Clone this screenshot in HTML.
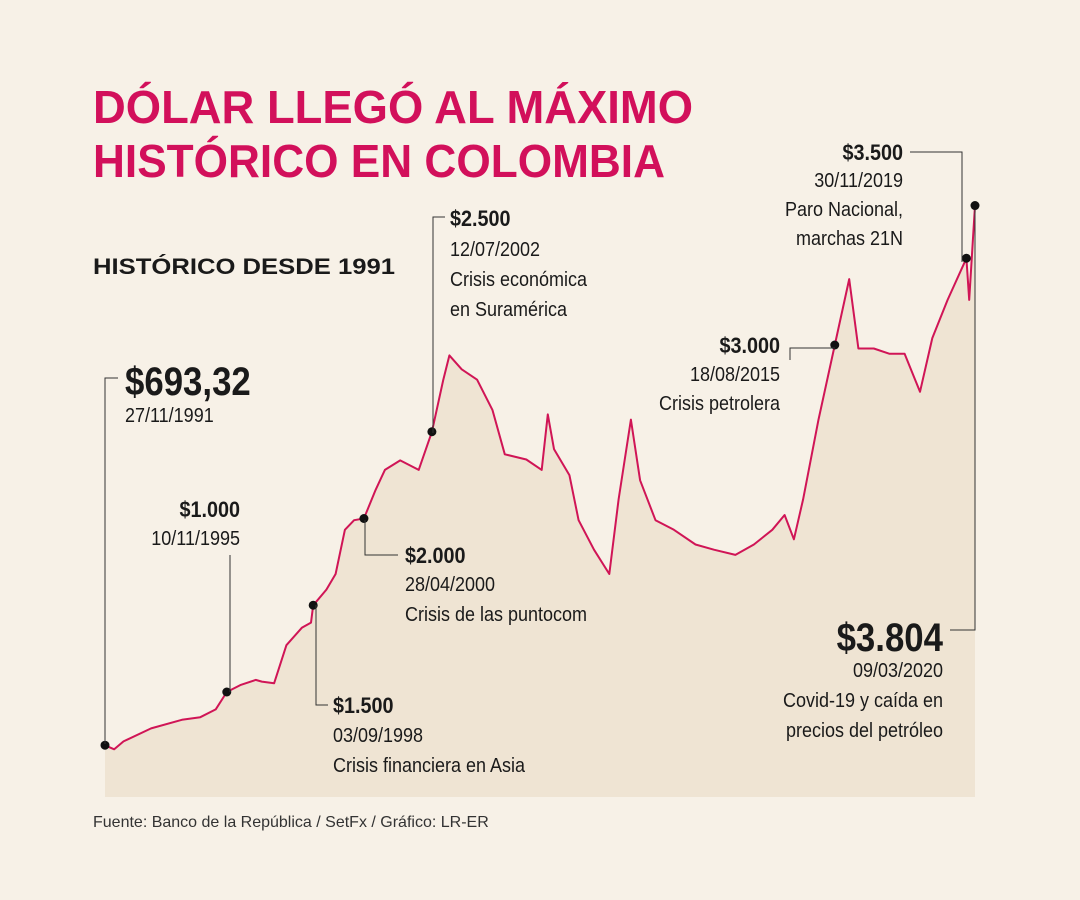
<!DOCTYPE html>
<html><head><meta charset="utf-8">
<style>
html,body{margin:0;padding:0;background:#f7f1e7;}
svg{display:block;}
.cn{font-family:"Liberation Sans",sans-serif;}
.b{font-weight:bold;}
</style></head>
<body>
<svg id="chart" width="1080" height="900" viewBox="0 0 1080 900" xmlns="http://www.w3.org/2000/svg">
<rect width="1080" height="900" fill="#f7f1e7"/>
<text x="93" y="123" fill="#d2105b" font-family="Liberation Sans, sans-serif" font-weight="bold" font-size="46" textLength="600" lengthAdjust="spacingAndGlyphs">DÓLAR LLEGÓ AL MÁXIMO</text>
<text x="93" y="177" fill="#d2105b" font-family="Liberation Sans, sans-serif" font-weight="bold" font-size="46" textLength="572" lengthAdjust="spacingAndGlyphs">HISTÓRICO EN COLOMBIA</text>
<text x="93" y="274" fill="#1a1a1a" font-family="Liberation Sans, sans-serif" font-weight="bold" font-size="22" textLength="302" lengthAdjust="spacingAndGlyphs">HISTÓRICO DESDE 1991</text>
<g id="plot"></g>
<g id="ann"></g>
<text x="93" y="827" fill="#333" font-family="Liberation Sans, sans-serif" font-size="16">Fuente: Banco de la República / SetFx / Gráfico: LR-ER</text>
</svg>
<script>
const dates = [1991.9,1992.2,1992.5,1993.4,1994.4,1995.0,1995.5,1995.86,1996.3,1996.8,1997.0,1997.4,1997.8,1998.3,1998.6,1998.67,1999.1,1999.4,1999.7,2000.0,2000.32,2000.7,2001.0,2001.5,2002.1,2002.53,2002.9,2003.1,2003.5,2004.0,2004.5,2004.9,2005.6,2006.1,2006.3,2006.5,2007.0,2007.3,2007.8,2008.3,2008.6,2009.0,2009.3,2009.8,2010.4,2011.1,2011.7,2012.4,2013.0,2013.6,2014.0,2014.3,2014.6,2015.1,2015.63,2016.1,2016.4,2016.9,2017.4,2017.9,2018.4,2018.8,2019.3,2019.91,2020.0,2020.19];
const values = [693,670,715,790,840,855,900,1000,1040,1070,1060,1050,1270,1370,1400,1500,1590,1680,1935,1990,2000,2165,2280,2335,2280,2500,2800,2940,2860,2800,2625,2370,2340,2280,2600,2400,2250,1990,1820,1680,2110,2570,2220,1990,1935,1850,1820,1790,1850,1935,2020,1880,2110,2570,3000,3380,2980,2980,2950,2950,2730,3040,3260,3500,3260,3804];
const markerDates = [1991.9,1995.86,1998.67,2000.32,2002.53,2015.63,2019.91,2020.19];
const markerValues = [693.32,1000,1500,2000,2500,3000,3500,3804];

const NS="http://www.w3.org/2000/svg";
const X0=1991.9,X1=2020.19,PX0=105,PX1=975;
const xs=d=>PX0+(d-X0)/(X1-X0)*(PX1-PX0);
const ys=v=>692-(v-1000)*0.1735;
const baseY=797;
const plot=document.getElementById('plot');
function mk(tag,attrs,parent){const e=document.createElementNS(NS,tag);for(const k in attrs)e.setAttribute(k,attrs[k]);parent.appendChild(e);return e;}
let d='';
dates.forEach((t,i)=>{d+=(i?'L':'M')+xs(t).toFixed(1)+','+ys(values[i]).toFixed(1);});
const area=mk('path',{d:d+'L'+xs(dates[dates.length-1])+','+baseY+'L'+xs(dates[0])+','+baseY+'Z',fill:'#efe4d3'},plot);


const line=mk('path',{d:d,fill:'none',stroke:'#d01556','stroke-width':2,'stroke-linejoin':'round'},plot);


markerDates.forEach((t,i)=>{
  const c=mk('circle',{cx:xs(t),cy:ys(markerValues[i]),r:4.5,fill:'#111'},plot);
  
  
});

const ann=document.getElementById('ann');
function leader(pts){const p=mk('polyline',{points:pts,fill:'none',stroke:'#333','stroke-width':1},ann);
  
  }
function txt(x,y,s,size,bold,anchor){
  const sc=size>30?0.87:0.9;
  const t=mk('text',{x:0,y:0,transform:'translate('+x+','+y+') scale('+sc+',1)','font-size':size,fill:'#1a1a1a','text-anchor':anchor||'start','class':'cn'+(bold?' b':'')},ann);t.textContent=s;
  
  }
leader('105,744 105,378 118,378');
txt(125,395,'$693,32',40,true);txt(125,422,'27/11/1991',20);
leader('230,692 230,555');
txt(240,517,'$1.000',22,true,'end');txt(240,545,'10/11/1995',20,false,'end');
leader('316,605 316,705 328,705');
txt(333,713,'$1.500',22,true);txt(333,742,'03/09/1998',20);txt(333,772,'Crisis financiera en Asia',20);
leader('365,520 365,555 398,555');
txt(405,563,'$2.000',22,true);txt(405,591,'28/04/2000',20);txt(405,621,'Crisis de las puntocom',20);
leader('433,433 433,217 445,217');
txt(450,226,'$2.500',22,true);txt(450,256,'12/07/2002',20);txt(450,286,'Crisis económica',20);txt(450,316,'en Suramérica',20);
leader('835,348 790,348 790,360');
txt(780,353,'$3.000',22,true,'end');txt(780,381,'18/08/2015',20,false,'end');txt(780,410,'Crisis petrolera',20,false,'end');
leader('910,152 962,152 962,262');
txt(903,160,'$3.500',22,true,'end');txt(903,187,'30/11/2019',20,false,'end');txt(903,216,'Paro Nacional,',20,false,'end');txt(903,245,'marchas 21N',20,false,'end');
leader('975,210 975,630 950,630');
txt(943,651,'$3.804',40,true,'end');txt(943,677,'09/03/2020',20,false,'end');txt(943,707,'Covid-19 y caída en',20,false,'end');txt(943,737,'precios del petróleo',20,false,'end');
</script>
</body></html>
